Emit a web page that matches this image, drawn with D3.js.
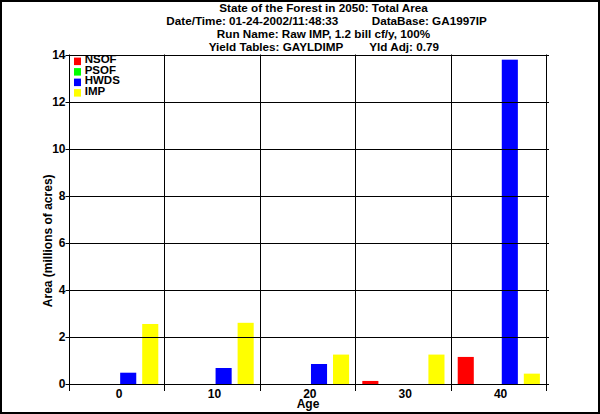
<!DOCTYPE html>
<html>
<head>
<meta charset="utf-8">
<script src="https://cdn.jsdelivr.net/npm/d3@7"></script>
<style>
body { margin: 0; background: #fff; }
svg text { font-family: "Liberation Sans", Arial, sans-serif; font-weight: bold; fill: #000; }
</style>
</head>
<body>
<div id="chart"></div>
<script>
// data
var ages = ["0", "10", "20", "30", "40"];
var seriesNames = ["NSOF", "PSOF", "HWDS", "IMP"];
var nsof = [0, 0, 0, 0.13, 1.15];
var psof = [0, 0, 0, 0, 0];
var hwds = [0.48, 0.68, 0.85, 0, 13.78];
var imp = [2.55, 2.6, 1.25, 1.25, 0.44];
var yTicks = [0, 2, 4, 6, 8, 10, 12, 14];
var seriesColors = ["#ff0000", "#00ff00", "#0000ff", "#ffff00"];

var title1 = "State of the Forest in 2050: Total Area";
var title2a = "Date/Time: 01-24-2002/11:48:33";
var title2b = "DataBase: GA1997IP";
var title3 = "Run Name: Raw IMP, 1.2 bill cf/y, 100%";
var title4a = "Yield Tables: GAYLDIMP";
var title4b = "Yld Adj: 0.79";

var width = 600;
var height = 414;

var seriesValues = [nsof, psof, hwds, imp];
var table = ages.map(function(a, i) {
  return { age: a, values: seriesNames.map(function(s, j) { return { name: s, value: seriesValues[j][i] }; }) };
});

var svg = d3.select('#chart')
  .append('svg')
  .attr('width', width)
  .attr('height', height);

// outer frame
svg.append('rect')
  .attr('x', 1).attr('y', 1)
  .attr('width', width - 2).attr('height', height - 2)
  .attr('fill', '#fff')
  .attr('stroke', '#000')
  .attr('stroke-width', 2);

var x0 = d3.scaleBand()
  .domain(ages)
  .range([69.5, 546.5])
  .padding(0);

var x1 = d3.scaleBand()
  .domain(seriesNames)
  .range([0, x0.bandwidth()])
  .paddingInner(0.27)
  .paddingOuter(0.3);

var y = d3.scaleLinear()
  .domain([0, 14])
  .range([384, 54.5]);

var color = d3.scaleOrdinal().domain(seriesNames).range(seriesColors);

// titles
var tsize = '11.7px';
var tx = 323.5;
svg.append('text').attr('x', tx).attr('y', 11.5).attr('text-anchor', 'middle').style('font-size', tsize).text(title1);
svg.append('text').attr('x', 338.3).attr('y', 24.5).attr('text-anchor', 'end').style('font-size', tsize).text(title2a);
svg.append('text').attr('x', 371.7).attr('y', 24.5).style('font-size', tsize).text(title2b);
svg.append('text').attr('x', tx).attr('y', 37.5).attr('text-anchor', 'middle').style('font-size', tsize).text(title3);
svg.append('text').attr('x', 343.3).attr('y', 50.5).attr('text-anchor', 'end').style('font-size', tsize).text(title4a);
svg.append('text').attr('x', 369.3).attr('y', 50.5).style('font-size', tsize).text(title4b);

// bars
var groups = svg.selectAll('.group')
  .data(table)
  .enter()
  .append('g')
  .attr('class', 'group')
  .attr('transform', function(d) { return 'translate(' + x0(d.age) + ',0)'; });

groups.selectAll('rect')
  .data(function(d) { return d.values.filter(function(v) { return v.value > 0; }); })
  .enter()
  .append('rect')
  .attr('x', function(d) { return x1(d.name); })
  .attr('width', x1.bandwidth())
  .attr('y', function(d) { return y(d.value); })
  .attr('height', function(d) { return y(0) - y(d.value); })
  .attr('fill', function(d) { return color(d.name); });

// horizontal grid lines
svg.selectAll('.hgrid')
  .data(yTicks)
  .enter()
  .append('line')
  .attr('class', 'hgrid')
  .attr('x1', 65.5)
  .attr('x2', 549)
  .attr('y1', function(d) { return Math.round(y(d)) + 0.5; })
  .attr('y2', function(d) { return Math.round(y(d)) + 0.5; })
  .attr('stroke', '#000')
  .attr('stroke-width', 1);

// vertical grid lines at band edges
var edges = ages.map(function(a) { return x0(a); }).concat([x0.range()[1]]);
svg.selectAll('.vgrid')
  .data(edges)
  .enter()
  .append('line')
  .attr('class', 'vgrid')
  .attr('x1', function(d) { return Math.floor(d) + 0.5; })
  .attr('x2', function(d) { return Math.floor(d) + 0.5; })
  .attr('y1', y(14))
  .attr('y2', 391)
  .attr('stroke', '#000')
  .attr('stroke-width', 1);

// y axis labels
var yAxis = d3.axisLeft(y).tickValues(yTicks).tickSize(0).tickPadding(4);
var yg = svg.append('g').attr('transform', 'translate(69.5,0)').call(yAxis);
yg.select('.domain').remove();
yg.selectAll('text').style('font-size', '12px').attr('font-family', null);

// x axis labels
var xAxis = d3.axisBottom(x0).tickSize(0).tickPadding(5.5);
var xg = svg.append('g').attr('transform', 'translate(0,384)').call(xAxis);
xg.select('.domain').remove();
xg.selectAll('text').style('font-size', '12px').attr('dx', 1.8);

svg.append('text')
  .attr('x', (x0.range()[0] + x0.range()[1]) / 2)
  .attr('y', 407.5)
  .attr('text-anchor', 'middle')
  .style('font-size', '12px')
  .text('Age');

svg.append('text')
  .attr('transform', 'translate(52.3,240.8) rotate(-90)')
  .attr('text-anchor', 'middle')
  .style('font-size', '12px')
  .text('Area (millions of acres)');

// legend
var legend = svg.selectAll('.legend')
  .data(seriesNames)
  .enter()
  .append('g')
  .attr('class', 'legend')
  .attr('transform', function(d, i) { return 'translate(74,' + (63.3 + i * 10.5) + ')'; });

legend.append('rect')
  .attr('x', 0)
  .attr('y', -5.7)
  .attr('width', 7)
  .attr('height', 7.5)
  .attr('fill', function(d) { return color(d); });

legend.append('text')
  .attr('x', 10.7)
  .attr('y', 0)
  .style('font-size', '11.5px')
  .text(function(d) { return d; });
</script>
</body>
</html>
